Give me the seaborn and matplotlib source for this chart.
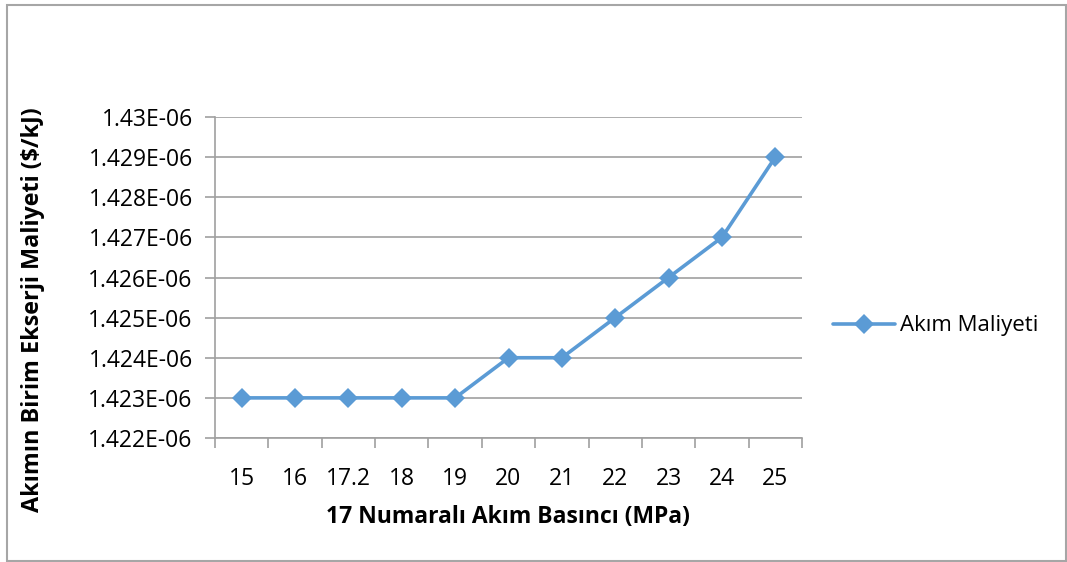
import matplotlib
matplotlib.use("Agg")
import matplotlib.pyplot as plt
import seaborn as sns
import pandas as pd
from matplotlib.patches import Rectangle
from matplotlib.lines import Line2D
from matplotlib.ticker import FixedLocator

pressures = ["15", "16", "17.2", "18", "19", "20", "21", "22", "23", "24", "25"]
costs = [1.423e-06, 1.423e-06, 1.423e-06, 1.423e-06, 1.423e-06,
         1.424e-06, 1.424e-06, 1.425e-06, 1.426e-06, 1.427e-06, 1.429e-06]
y_ticks = [1.422e-06, 1.423e-06, 1.424e-06, 1.425e-06, 1.426e-06,
           1.427e-06, 1.428e-06, 1.429e-06, 1.43e-06]
y_tick_labels = ["1.422E-06", "1.423E-06", "1.424E-06", "1.425E-06", "1.426E-06",
                 "1.427E-06", "1.428E-06", "1.429E-06", "1.43E-06"]
series_name = "Akım Maliyeti"

sns.set_style("white")
plt.rcParams["font.family"] = ["Open Sans", "DejaVu Sans"]
plt.rcParams["text.color"] = "black"
plt.rcParams["xtick.labelcolor"] = "black"
plt.rcParams["ytick.labelcolor"] = "black"

df = pd.DataFrame({"pos": range(len(pressures)), "cost": costs, "series": series_name})

W, H = 1067, 562
fig = plt.figure(figsize=(W / 100, H / 100), dpi=100)
ax = fig.add_axes([215 / W, 1 - 438 / H, (802 - 215) / W, (438 - 117) / H])

blue = "#5B9BD5"
grid_gray = "#a0a0a0"
fs = 16.5

sns.lineplot(data=df, x="pos", y="cost", hue="series", palette=[blue], ax=ax,
             marker="D", markersize=10, linewidth=2.6, markeredgewidth=0,
             legend=False)

ax.set_xlim(-0.5, len(pressures) - 0.5)
ax.set_ylim(y_ticks[0], y_ticks[-1])
ax.set_yticks(y_ticks)
ax.set_yticklabels(y_tick_labels)
ax.set_xticks(range(len(pressures)))
ax.set_xticklabels(pressures)
ax.xaxis.set_minor_locator(FixedLocator([i - 0.5 for i in range(len(pressures) + 1)]))

ax.grid(axis="y", color=grid_gray, linewidth=1.2)
ax.set_axisbelow(True)
for side in ("top", "right"):
    ax.spines[side].set_visible(False)
for side in ("left", "bottom"):
    ax.spines[side].set_color(grid_gray)
    ax.spines[side].set_linewidth(1.2)

ax.tick_params(axis="y", which="major", direction="out", length=7, width=1.2,
               color=grid_gray, labelsize=fs, labelcolor="black", pad=9, left=True)
ax.tick_params(axis="x", which="major", length=0, labelsize=fs,
               labelcolor="black", pad=21)
ax.tick_params(axis="x", which="minor", direction="out", length=7, width=1.2,
               color=grid_gray, bottom=True)

ax.set_xlabel("")
ax.set_ylabel("")
fig.text(508 / W, 1 - 517 / H, "17 Numaralı Akım Basıncı (MPa)", ha="center",
         va="center", fontsize=fs, fontweight="bold", color="black")
fig.text(33 / W, 1 - 310 / H, "Akımın Birim Ekserji Maliyeti ($/kJ)", ha="center",
         va="center", rotation=90, fontsize=16.8, fontweight="bold", color="black")

# legend entry on the right
handle = Line2D([], [], color=blue, linewidth=2.6, marker="D", markersize=10,
                markeredgewidth=0)
fig.legend([handle], [series_name], loc="center left",
           bbox_to_anchor=(813 / W, 1 - 326 / H), frameon=False,
           fontsize=16, handlelength=2.8, handletextpad=0.2, labelcolor="black")

# outer chart border
fig.patches.append(Rectangle((7 / W, 1 - 561 / H), (1066 - 7) / W, (561 - 5) / H,
                             transform=fig.transFigure, fill=False,
                             edgecolor="#a6a6a6", linewidth=1.5))

fig.savefig("out.png", dpi=100, facecolor="white")
